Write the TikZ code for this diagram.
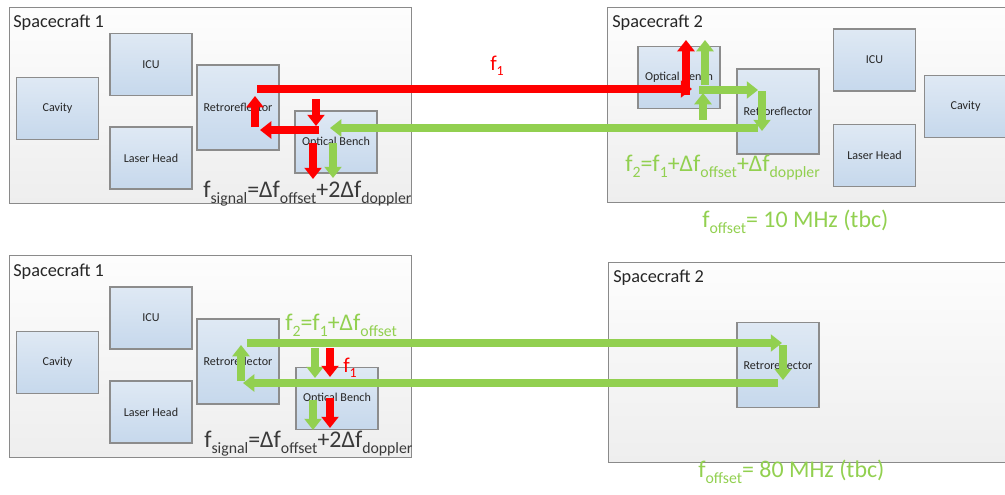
\documentclass[tikz,border=0pt]{standalone}
\usepackage{fontspec}
\setmainfont{Carlito}
\usetikzlibrary{arrows.meta, positioning}
\definecolor{ink}{HTML}{262626}
\definecolor{formula}{HTML}{3A3A3A}
\definecolor{frame}{HTML}{8A8A8A}
\definecolor{crafttop}{HTML}{FDFDFD}
\definecolor{craftbot}{HTML}{EEEEEE}
\definecolor{unitline}{HTML}{8C8C8C}
\definecolor{unittop}{HTML}{DFE9F4}
\definecolor{unitbot}{HTML}{C6D8EC}
\definecolor{laser}{HTML}{FF0000}
\definecolor{shifted}{HTML}{92D050}

% lowered, shrunk text for the frequency subscripts
\newcommand{\lo}[1]{\raisebox{-0.27em}{\scalebox{0.66}{#1}}}

\tikzset{
  font=\fontsize{8.6}{10}\selectfont,
  %
  craft/.style={draw=frame, line width=0.8pt, top color=crafttop,
                bottom color=craftbot, inner sep=0pt, anchor=north west},
  crafttitle/.style={font=\fontsize{13}{15}\selectfont, text=ink,
                     inner sep=0pt, anchor=base west},
  unitbox/.style={draw=unitline, line width=0.8pt, top color=unittop,
                  bottom color=unitbot, text=ink, inner sep=0pt,
                  minimum width=2.05cm, minimum height=1.55cm},
  retro/.style={unitbox, minimum height=2.125cm},
  %
  beam/.style={line width=5pt, -{Triangle[width=12pt, length=8pt]}},
  beamr/.style={beam, draw=laser},
  beamg/.style={beam, draw=shifted},
  %
  eq/.style={font=\fontsize{17}{20}\selectfont, inner sep=0pt, anchor=base west},
}

\begin{document}
\begin{tikzpicture}[x=0.025cm, y=-0.025cm]
\useasboundingbox (0,0) rectangle (1005,494);
\clip (0,0) rectangle (1005,494);

% ------------------------------------------------------------ top, craft 1
\node[craft, minimum width=10.05cm, minimum height=4.9cm] (sc1t) at (9,7) {};
\node[crafttitle] (sc1tl) at (13,27) {Spacecraft 1};
\node[unitbox] (cav1t) at (57.5,108.5) {Cavity};
\node[unitbox] (icu1t) at (151,64.5) {ICU};
\node[unitbox] (lh1t) at (151,158) {Laser Head};
\node[retro] (rr1t) at (238,107.5) {Retroreflector};
\node[unitbox] (ob1t) at (336,142) {Optical Bench};

% ------------------------------------------------------------ top, craft 2
\node[craft, minimum width=10.05cm, minimum height=4.875cm] (sc2t) at (607,7) {};
\node[crafttitle] (sc2tl) at (612,27) {Spacecraft 2};
\node[unitbox] (ob2t) at (679,77.5) {Optical Bench};
\node[retro] (rr2t) at (778,111.5) {Retroreflector};
\node[unitbox] (icu2t) at (874.5,60) {ICU};
\node[unitbox] (lh2t) at (874.5,155.5) {Laser Head};
\node[unitbox, anchor=west] (cav2t) at (924,106.5) {Cavity};

% --------------------------------------------------------- bottom, craft 1
\node[craft, minimum width=10.05cm, minimum height=5.05cm] (sc1b) at (9,255) {};
\node[crafttitle] (sc1bl) at (13,276) {Spacecraft 1};
\node[unitbox] (cav1b) at (57.5,362.5) {Cavity};
\node[unitbox] (icu1b) at (151,318) {ICU};
\node[unitbox] (lh1b) at (151,412) {Laser Head};
\node[retro] (rr1b) at (238,361.5) {Retroreflector};
\node[unitbox] (ob1b) at (337,398.5) {Optical Bench};

% --------------------------------------------------------- bottom, craft 2
\node[craft, minimum width=10.05cm, minimum height=5cm] (sc2b) at (608,262) {};
\node[crafttitle] (sc2bl) at (613,282) {Spacecraft 2};
\node[retro] (rr2b) at (778,365) {Retroreflector};

% ------------------------------------------------------------ beam points
\foreach \n/\x/\y in {ta/257/89, tb/692/89, tc/255/127, td/255/96,
    te/316/99, tf/316/126, tg/319/130, th/260/130, ti/758/128, tj/330/128,
    tk/313/143, tl/313/179, tm/333/143, tn/333/178,
    to/686/95, tp/686/40, tq/705/85, tr/705/40, ts/699/90, tt/758/90,
    tu/703/120, tv/703/93, tw/762/91, tx/762/131,
    ba/247/343, bb/782/343, bc/783/345, bd/783/380, be/778/383, bf/243/383,
    bg/241/381, bh/241/345, bi/315/348, bj/315/378, bk/330/348, bl/330/377,
    bm/313/400, bn/313/430, bo/330/398, bp/330/428}
  \coordinate (\n) at (\x,\y);

% ------------------------------------------------------------ top beams
\draw[beamr] (ta) -- (tb);
\draw[beamr] (tc) -- (td);
\draw[beamr] (te) -- (tf);
\draw[beamr] (tg) -- (th);
\draw[beamg] (ti) -- (tj);
\draw[beamr] (tk) -- (tl);
\draw[beamg] (tm) -- (tn);
\draw[beamr] (to) -- (tp);
\draw[beamg] (tq) -- (tr);
\draw[beamg] (ts) -- (tt);
\draw[beamg] (tu) -- (tv);
\draw[beamg] (tw) -- (tx);

% ------------------------------------------------------------ bottom beams
\draw[beamg] (ba) -- (bb);
\draw[beamg] (bc) -- (bd);
\draw[beamg] (be) -- (bf);
\draw[beamg] (bg) -- (bh);
\draw[beamg] (bi) -- (bj);
\draw[beamr] (bk) -- (bl);
\draw[beamg] (bm) -- (bn);
\draw[beamr] (bo) -- (bp);

% ------------------------------------------------------------ frequencies
\node[eq, text=laser, font=\fontsize{15}{18}\selectfont] (f1t) at (490,70) {f\lo{1}};
\node[eq, text=shifted] (f2t) at (625,171)
  {f\lo{2}=f\lo{1}+Δf\lo{offset}+Δf\lo{doppler}};
\node[eq, text=formula] (fst) at (203,197)
  {f\lo{signal}=Δf\lo{offset}+2Δf\lo{doppler}};
\node[eq, text=shifted] (fot) at (702,227) {f\lo{offset}= 10 MHz (tbc)};

\node[eq, text=shifted] (f2b) at (285,330) {f\lo{2}=f\lo{1}+Δf\lo{offset}};
\node[eq, text=laser, font=\fontsize{15}{18}\selectfont] (f1b) at (343,372) {f\lo{1}};
\node[eq, text=formula] (fsb) at (204,447)
  {f\lo{signal}=Δf\lo{offset}+2Δf\lo{doppler}};
\node[eq, text=shifted] (fob) at (698,477) {f\lo{offset}= 80 MHz (tbc)};

\end{tikzpicture}
\end{document}
